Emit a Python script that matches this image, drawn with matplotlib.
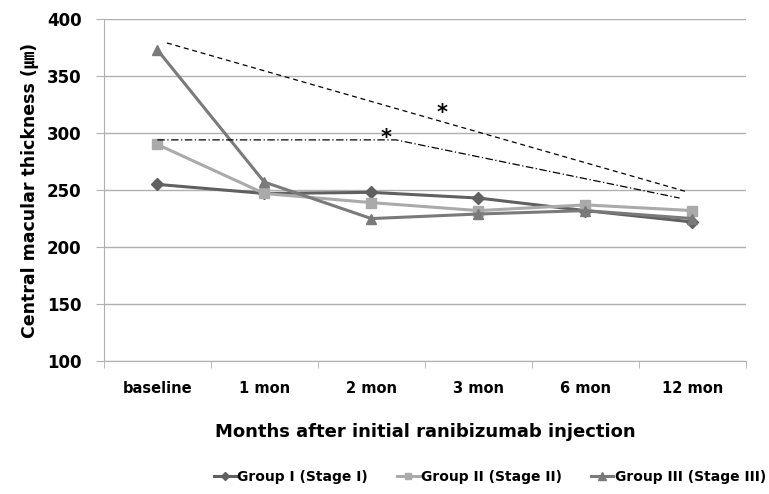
import numpy as np
import matplotlib.pyplot as plt

plt.rcParams['font.family'] = ['DejaVu Sans', 'Noto Sans CJK KR']

months = ['baseline', '1 mon', '2 mon', '3 mon', '6 mon', '12 mon']
group1 = [255, 247, 248, 243, 232, 222]
group2 = [290, 247, 239, 232, 237, 232]
group3 = [373, 257, 225, 229, 232, 225]

# significance guide lines (x in category units)
dash_x = [0.09, 4.93]
dash_y = [379, 249]
dashdot_x = [0, 2.23, 4.88]
dashdot_y = [294, 294, 243]
stars_x = [2.66, 2.14]
stars_y = [318, 296]

x = np.arange(len(months))

fig = plt.figure(figsize=(7.69, 4.94), dpi=100)
ax = fig.add_axes([0.135, 0.269, 0.835, 0.6925])

ax.plot(x, group1, color='#606060', lw=2.2, marker='D', ms=6, label='Group I (Stage I)')
ax.plot(x, group2, color='#aaaaaa', lw=2.2, marker='s', ms=7, label='Group II (Stage II)')
ax.plot(x, group3, color='#7a7a7a', lw=2.2, marker='^', ms=7.5, label='Group III (Stage III)')

ax.plot(dash_x, dash_y, color='black', lw=0.9, ls=(0, (4, 3)))
ax.plot(dashdot_x, dashdot_y, color='black', lw=0.9, ls=(0, (6, 2, 1, 2)))
for sx, sy in zip(stars_x, stars_y):
    ax.text(sx, sy, '*', fontsize=15, fontweight='bold', ha='center', va='center')

ax.set_xlim(-0.5, 5.5)
ax.set_ylim(100, 400)
ax.set_yticks(range(100, 401, 50))
ax.set_xticks(x)
ax.set_xticks(np.arange(-0.5, 5.6, 1), minor=True)
ax.set_xticklabels(months, fontsize=10.5, fontweight='bold')
for lab in ax.get_yticklabels():
    lab.set_fontsize(12)
    lab.set_fontweight('bold')
ax.tick_params(length=0, pad=10)
ax.tick_params(axis='x', pad=14)
ax.tick_params(axis='x', which='minor', length=5, color='#b0b0b0', direction='out')
ax.tick_params(axis='y', which='major', length=6, color='#b0b0b0', direction='out')
ax.grid(axis='y', color='#b0b0b0', lw=1)
ax.set_axisbelow(True)
for s in ['top', 'right']:
    ax.spines[s].set_visible(False)
ax.spines['left'].set_color('#b0b0b0')
ax.spines['bottom'].set_color('#b0b0b0')

ax.set_ylabel('Central macular thickness (㎛)', fontsize=12.5, fontweight='bold', labelpad=6)
ax.set_xlabel('Months after initial ranibizumab injection', fontsize=13, fontweight='bold', labelpad=20)

leg = fig.legend(loc='lower center', bbox_to_anchor=(0.637, -0.005), ncol=3, frameon=False,
                 prop={'size': 10, 'weight': 'bold'}, handlelength=1.6, columnspacing=2.1,
                 handletextpad=0.1, markerscale=0.7)

fig.savefig('out.png', dpi=100)
